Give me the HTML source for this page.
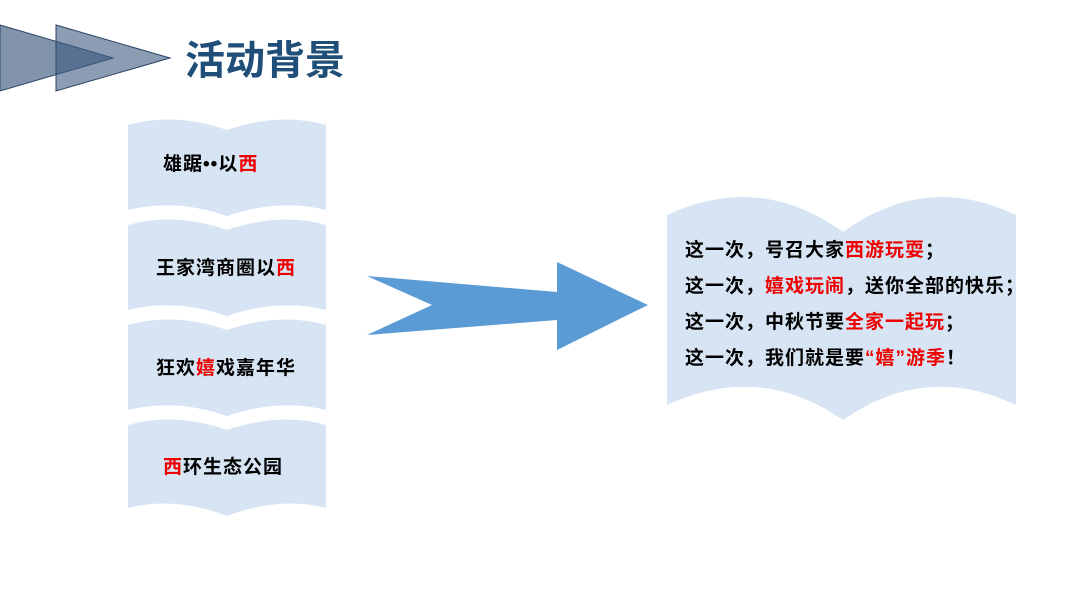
<!DOCTYPE html>
<html><head><meta charset="utf-8"><style>
body{margin:0;width:1067px;height:600px;background:#fff;position:relative;overflow:hidden;font-family:"Liberation Sans","Noto Sans CJK SC",sans-serif;}
.t{position:absolute;font-weight:bold;color:#000;white-space:nowrap;font-size:19px;letter-spacing:1px}
.r{color:#e00}
</style></head><body>
<svg width="1067" height="600" style="position:absolute;left:0;top:0">
<polygon points="0,25 113,58 0,91" fill="#3d5a80" fill-opacity="0.65" stroke="#2b4466" stroke-width="1"/>
<polygon points="56,25 170,58 56,91" fill="#3d5a80" fill-opacity="0.6" stroke="#2b4466" stroke-width="1"/>
<g fill="#d6e4f4">
<path d="M128,125 Q175,112 227,130 Q280,112 326,125 L326,210 Q280,198 227,216 Q175,198 128,210 Z"/>
<path d="M128,225 Q175,212 227,230 Q280,212 326,225 L326,310 Q280,298 227,316 Q175,298 128,310 Z"/>
<path d="M128,325 Q175,312 227,330 Q280,312 326,325 L326,410 Q280,398 227,416 Q175,398 128,410 Z"/>
<path d="M128,425 Q175,412 227,430 Q280,412 326,425 L326,508 Q280,496 227,516 Q175,496 128,508 Z"/>
<path d="M667,215 Q760,172 843,232 Q926,172 1016,215 L1016,405 Q926,362 843,420 Q760,362 667,405 Z"/>
</g>
<polygon points="367,276 557,292 557,262 648,305 557,350 557,320 367,335 432,305" fill="#5b9bd5"/>
</svg>
<div class="t" style="left:185px;top:28px;font-size:40px;letter-spacing:0;color:#1f4e79">活动背景</div>
<div class="t" style="left:163px;top:149px">雄踞••以<span class="r">西</span></div>
<div class="t" style="left:156px;top:253px">王家湾商圈以<span class="r">西</span></div>
<div class="t" style="left:156px;top:353px">狂欢<span class="r">嬉</span>戏嘉年华</div>
<div class="t" style="left:163px;top:452px"><span class="r">西</span>环生态公园</div>
<div class="t" style="left:685px;top:233px;line-height:36px">这一次&#xFF0C;号召大家<span class="r">西游玩耍</span>&#xFF1B;<br>这一次&#xFF0C;<span class="r">嬉戏玩闹</span>&#xFF0C;送你全部的快乐&#xFF1B;<br>这一次&#xFF0C;中秋节要<span class="r">全家一起玩</span>&#xFF1B;<br>这一次&#xFF0C;我们就是要<span class="r">&#x201C;嬉&#x201D;游季</span>&#xFF01;</div>
</body></html>
